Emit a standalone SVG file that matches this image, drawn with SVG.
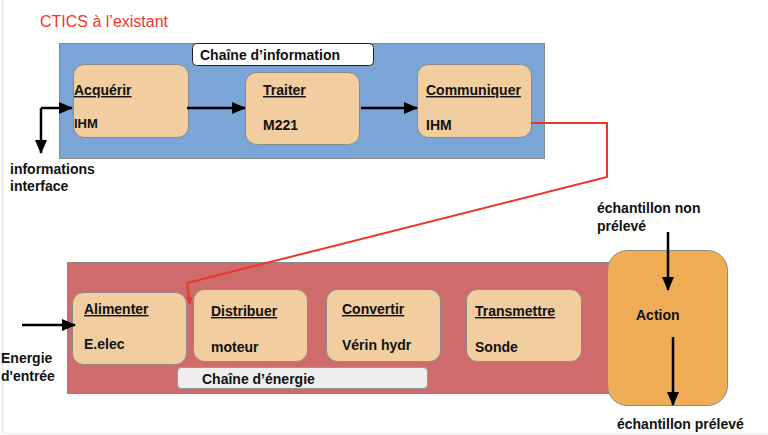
<svg xmlns="http://www.w3.org/2000/svg" width="768" height="435" viewBox="0 0 768 435">
<defs>
<style>
text{font-family:"Liberation Sans",Arial,sans-serif;font-weight:bold;font-size:14px;fill:#111}
.box{fill:#F2CDA0;stroke:#8a8a8a;stroke-width:1}
.t{text-decoration:underline}
.arr{stroke:#000;stroke-width:2.5;fill:none}
</style>
<marker id="ah" markerUnits="userSpaceOnUse" markerWidth="14" markerHeight="14" viewBox="0 0 14 14" refX="13" refY="7" orient="auto">
<path d="M0,1 L14,7 L0,13 Z" fill="#000"/>
</marker>
<marker id="ahr" markerUnits="userSpaceOnUse" markerWidth="8" markerHeight="8" viewBox="0 0 8 8" refX="7" refY="4" orient="auto">
<path d="M0,0.5 L8,4 L0,7.5 Z" fill="#e8372c"/>
</marker>
</defs>
<rect x="0" y="0" width="768" height="435" fill="#fff"/>
<line x1="2.5" y1="0" x2="2.5" y2="433" stroke="#e4e4e4" stroke-width="1.5"/>
<line x1="2" y1="433.5" x2="768" y2="433.5" stroke="#eeeeee" stroke-width="1.5"/>

<text x="40" y="27" style="font-weight:normal;font-size:16px;fill:#f2362b">CTICS à l’existant</text>

<g id="chaine-information">
<rect x="59.5" y="43.5" width="485" height="115" fill="#7BA4D7" stroke="#8a8a8a"/>
<rect x="192.5" y="43.5" width="181" height="22" rx="4" fill="#fff" stroke="#222"/>
<text x="200" y="60">Chaîne d’information</text>
</g>

<g id="acquerir">
<rect class="box" x="73.5" y="64.5" width="115" height="73" rx="11"/>
<text class="t" x="74" y="95">Acquérir</text>
<text x="74" y="128" style="font-size:13px">IHM</text>
</g>
<g id="traiter">
<rect class="box" x="245.5" y="72.5" width="114" height="72" rx="11"/>
<text class="t" x="263" y="95">Traiter</text>
<text x="263" y="130">M221</text>
</g>
<g id="communiquer">
<rect class="box" x="417.5" y="64.5" width="114" height="73" rx="11"/>
<text class="t" x="426" y="95">Communiquer</text>
<text x="426" y="130">IHM</text>
</g>

<g id="chaine-energie">
<rect x="67.5" y="262.5" width="545" height="131" fill="#CF6B6A" stroke="#8a8a8a"/>
<rect x="177.5" y="367.5" width="250" height="21" rx="4" fill="#EEEEEE" stroke="#999"/>
<text x="202" y="384">Chaîne d’énergie</text>
</g>

<g id="alimenter">
<rect class="box" x="72.5" y="292.5" width="114" height="72" rx="11"/>
<text class="t" x="84" y="314">Alimenter</text>
<text x="84" y="349">E.elec</text>
</g>
<g id="distribuer">
<rect class="box" x="193.5" y="289.5" width="114" height="72" rx="11"/>
<text class="t" x="211" y="316">Distribuer</text>
<text x="211" y="352">moteur</text>
</g>
<g id="convertir">
<rect class="box" x="326.5" y="289.5" width="114" height="72" rx="11"/>
<text class="t" x="342" y="314">Convertir</text>
<text x="342" y="350">Vérin hydr</text>
</g>
<g id="transmettre">
<rect class="box" x="466.5" y="289.5" width="115" height="72" rx="11"/>
<text class="t" x="475" y="316">Transmettre</text>
<text x="475" y="352">Sonde</text>
</g>

<g id="action">
<rect x="607.5" y="250.5" width="120" height="155" rx="20" fill="#F0AD55" stroke="#8a8a8a"/>
<text x="636" y="320">Action</text>
</g>

<g id="labels">
<text x="10" y="174">informations</text>
<text x="10" y="191">interface</text>
<text x="1" y="363">Energie</text>
<text x="1" y="381">d'entrée</text>
<text x="597" y="213">échantillon non</text>
<text x="597" y="231">prélevé</text>
<text x="617" y="429">échantillon prélevé</text>
</g>

<g id="connectors">
<path class="arr" d="M41,108 H72" marker-end="url(#ah)"/>
<path class="arr" d="M41,108 V153" marker-end="url(#ah)"/>
<path class="arr" d="M187,108 H245" marker-end="url(#ah)"/>
<path class="arr" d="M361,108 H417" marker-end="url(#ah)"/>
<path d="M531,123 H607 V177 L187,283 L190,304" fill="none" stroke="#e8372c" stroke-width="2" marker-end="url(#ahr)"/>
<path class="arr" d="M22,325 H75" marker-end="url(#ah)"/>
<path class="arr" d="M668,232 V290" marker-end="url(#ah)"/>
<path class="arr" d="M673,337 V405" marker-end="url(#ah)"/>
</g>
</svg>
